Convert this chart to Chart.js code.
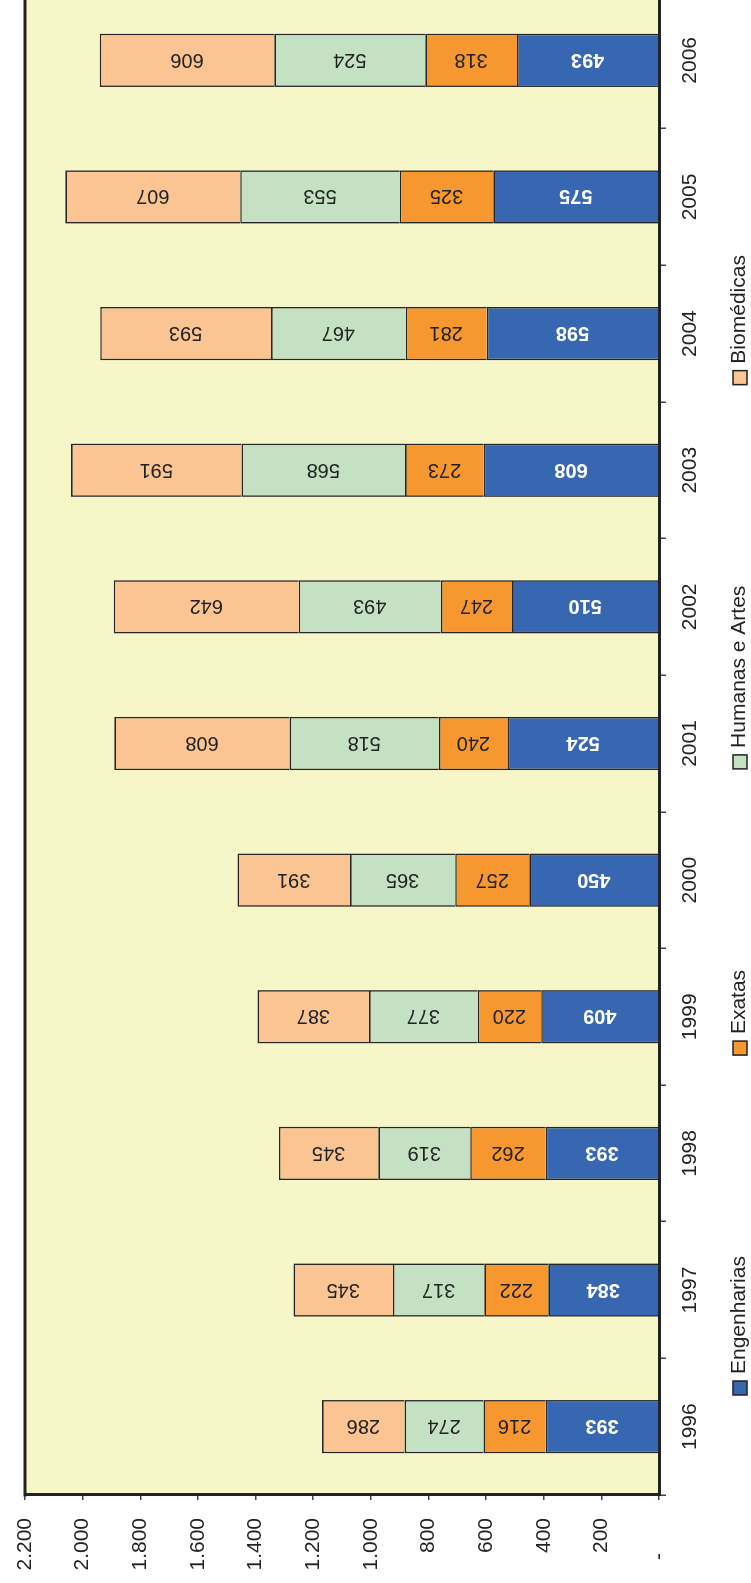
<!DOCTYPE html>
<html><head><meta charset="utf-8">
<script src="https://cdn.jsdelivr.net/npm/chart.js@4/dist/chart.umd.min.js"></script>
<style>
html,body{margin:0;padding:0;width:751px;height:1583px;overflow:hidden;background:#fff;}
#wrap{position:absolute;left:0;top:0;width:1591px;height:751px;transform-origin:0 0;transform:translate(0px,1583px) rotate(-90deg);}
canvas{display:block;}
</style></head><body>
<div id="wrap"><canvas id="c" width="1591" height="751"></canvas></div>
<script>
const years = ['1996','1997','1998','1999','2000','2001','2002','2003','2004','2005','2006'];
const engenharias = [393,384,393,409,450,524,510,608,598,575,493];
const exatas      = [216,222,262,220,257,240,247,273,281,325,318];
const humanas     = [274,317,319,377,365,518,493,568,467,553,524];
const biomedicas  = [286,345,345,387,391,608,642,591,593,607,606];
const seriesNames = ['Engenharias','Exatas','Humanas e Artes','Biomédicas'];
const valueTickLabels = ['-      ','200','400','600','800','1.000','1.200','1.400','1.600','1.800','2.000','2.200'];

const FONT = 'Liberation Sans, Arial, Helvetica, sans-serif';
const colors = ['#3767B1','#F6982F','#C4E2C3','#FBC593'];
const labelColors = ['#ffffff','#222222','#222222','#222222'];
const labelBold = [true,false,false,false];

const framePlugin = {
  id:'frame',
  beforeDraw(chart){
    const {ctx, chartArea:a} = chart;
    ctx.save();
    ctx.fillStyle = '#F7F6C8';
    ctx.fillRect(a.left, a.top, a.right-a.left, a.bottom-a.top);
    ctx.restore();
  },
  afterDatasetsDraw(chart){
    const {ctx} = chart;
    ctx.save();
    chart.data.datasets.forEach((ds, di) => {
      const meta = chart.getDatasetMeta(di);
      meta.data.forEach((bar, i) => {
        const cy = (bar.y + bar.base)/2;
        ctx.save();
        ctx.translate(bar.x, cy);
        ctx.rotate(-Math.PI/2);
        ctx.font = (labelBold[di] ? 'bold ' : '') + '20px ' + FONT;
        ctx.fillStyle = labelColors[di];
        ctx.textAlign = 'center';
        ctx.textBaseline = 'middle';
        ctx.fillText(String(ds.data[i]), 0, 1);
        ctx.restore();
      });
    });
    ctx.restore();
  },
  afterDraw(chart){
    const {ctx, chartArea:a} = chart;
    ctx.save();
    ctx.strokeStyle = '#222';
    ctx.lineWidth = 3;
    ctx.beginPath();
    ctx.moveTo(a.left-1.5, a.top);
    ctx.lineTo(a.right, a.top);
    ctx.stroke();
    ctx.font = '21px ' + FONT;
    ctx.textBaseline = 'alphabetic';
    ctx.textAlign = 'left';
    let x = 188;
    const boxY = 733, box = 14;
    chart.data.datasets.forEach((ds, di) => {
      ctx.fillStyle = ds.backgroundColor;
      ctx.fillRect(x, boxY, box, box);
      ctx.lineWidth = 1.5;
      ctx.strokeStyle = '#222';
      ctx.strokeRect(x, boxY, box, box);
      ctx.fillStyle = '#222';
      ctx.fillText(ds.label, x + box + 7, 745);
      x += box + 7 + ctx.measureText(ds.label).width + 201;
    });
    ctx.restore();
  }
};

const seriesData = [engenharias, exatas, humanas, biomedicas];
new Chart(document.getElementById('c'), {
  type:'bar',
  data:{
    labels: years,
    datasets: seriesData.map((d, i) => ({
      label: seriesNames[i],
      data: d,
      backgroundColor: colors[i],
      borderColor: '#262626',
      borderWidth: 1.6,
      barPercentage: 0.39,
      categoryPercentage: 1.0
    }))
  },
  options:{
    responsive:false,
    animation:false,
    devicePixelRatio:1,
    layout:{padding:{top:25,left:0,right:0,bottom:0}},
    plugins:{legend:{display:false}, tooltip:{enabled:false}},
    scales:{
      x:{
        stacked:true,
        afterFit(s){ s.height = 92; s.paddingLeft = 0; s.paddingRight = 0; },
        grid:{display:true, drawOnChartArea:false, drawTicks:true, tickLength:7, color:'#444', lineWidth:1.5, offset:true},
        border:{display:true, width:3, color:'#222'},
        ticks:{font:{family:FONT, size:21}, color:'#222', padding:12, maxRotation:0, minRotation:0}
      },
      y:{
        stacked:true,
        min:0, max:2200,
        afterFit(s){ s.width = 88; s.paddingTop = 0; s.paddingBottom = 0; },
        grid:{display:true, drawOnChartArea:false, drawTicks:true, tickLength:5, color:'#444', lineWidth:1.5},
        border:{display:true, width:3, color:'#222'},
        ticks:{stepSize:200, font:{family:FONT, size:21}, color:'#222', padding:18,
          callback:(v, i) => valueTickLabels[i]}
      }
    }
  },
  plugins:[framePlugin]
});
</script>
</body></html>
